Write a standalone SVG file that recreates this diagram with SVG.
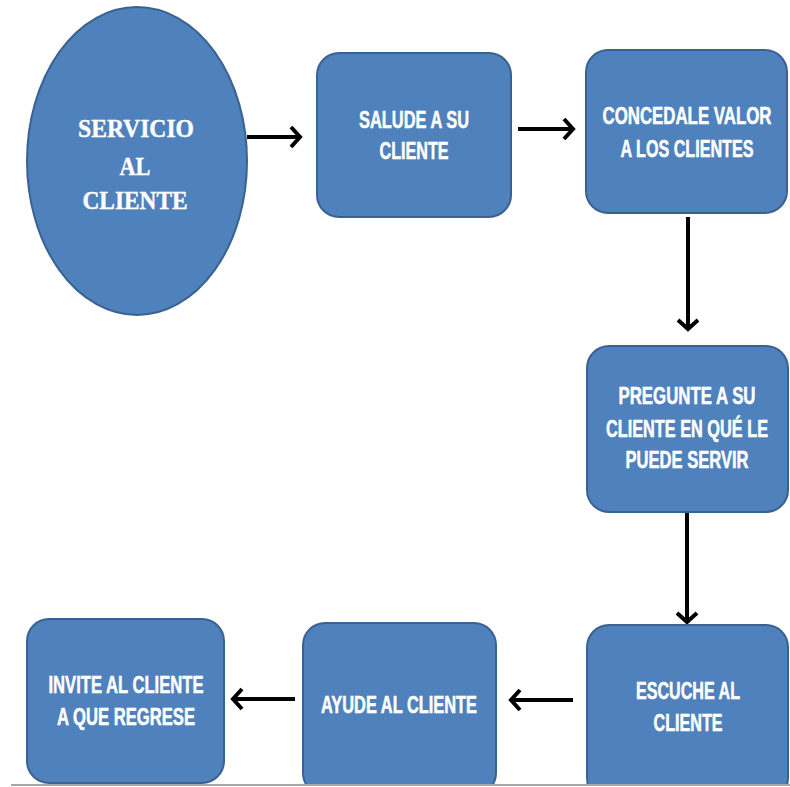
<svg xmlns="http://www.w3.org/2000/svg" width="790" height="787" viewBox="0 0 790 787">
  <style>
    .shape { fill: #4F81BD; stroke: #3A6291; stroke-width: 2; }
    .lbl { fill: #FFFFFF; stroke: #FFFFFF; stroke-width: 0.5; font-family: "Liberation Sans", Arial, sans-serif; font-weight: bold; font-size: 23px; text-anchor: middle; }
    .lbl-serif { fill: #FFFFFF; stroke: #FFFFFF; stroke-width: 0.4; font-family: "Liberation Serif", "Times New Roman", serif; font-weight: bold; font-size: 26px; text-anchor: middle; }
    .conn { fill: none; stroke: #000000; stroke-width: 4; marker-end: url(#chev); }
    .rule { stroke: #A6A6A6; stroke-width: 2; }
  </style>
  <defs>
    <marker id="chev" markerUnits="userSpaceOnUse" markerWidth="30" markerHeight="30" viewBox="-15 -15 30 30" refX="0" refY="0" orient="auto" overflow="visible">
      <path d="M-10,-10 L-1,0 L-10,10" fill="none" stroke="#000000" stroke-width="4"/>
    </marker>
  </defs>

  <rect width="790" height="787" fill="#FFFFFF"/>

  <!-- connectors -->
  <g id="connectors">
    <path class="conn" d="M247,137 L301,137"/>
    <path class="conn" d="M518,129 L574,129"/>
    <path class="conn" d="M688,217 L688,330"/>
    <path class="conn" d="M687,512 L687,623"/>
    <path class="conn" d="M573,700 L510,700"/>
    <path class="conn" d="M295,699 L232,699"/>
  </g>

  <g id="servicio">
    <ellipse class="shape" cx="137" cy="161" rx="110" ry="154"/>
    <text class="lbl-serif" x="136" y="137" textLength="116" lengthAdjust="spacingAndGlyphs">SERVICIO</text>
    <text class="lbl-serif" x="135" y="175" textLength="31" lengthAdjust="spacingAndGlyphs">AL</text>
    <text class="lbl-serif" x="135" y="209" textLength="105" lengthAdjust="spacingAndGlyphs">CLIENTE</text>
  </g>

  <g id="salude">
    <rect class="shape" x="317" y="53" width="194" height="164" rx="22"/>
    <text class="lbl" x="414" y="128" textLength="110" lengthAdjust="spacingAndGlyphs">SALUDE A SU</text>
    <text class="lbl" x="414" y="159" textLength="69" lengthAdjust="spacingAndGlyphs">CLIENTE</text>
  </g>

  <g id="concedale">
    <rect class="shape" x="586" y="50" width="201" height="163" rx="22"/>
    <text class="lbl" x="687" y="124" textLength="169" lengthAdjust="spacingAndGlyphs">CONCEDALE VALOR</text>
    <text class="lbl" x="687" y="157" textLength="133" lengthAdjust="spacingAndGlyphs">A LOS CLIENTES</text>
  </g>

  <g id="pregunte">
    <rect class="shape" x="587" y="346" width="201" height="166" rx="22"/>
    <text class="lbl" x="687" y="404" textLength="137" lengthAdjust="spacingAndGlyphs">PREGUNTE A SU</text>
    <text class="lbl" x="687" y="437" textLength="162" lengthAdjust="spacingAndGlyphs">CLIENTE EN QUÉ LE</text>
    <text class="lbl" x="687" y="468" textLength="123" lengthAdjust="spacingAndGlyphs">PUEDE SERVIR</text>
  </g>

  <g id="escuche">
    <rect class="shape" x="587" y="625" width="201" height="175" rx="22"/>
    <text class="lbl" x="688" y="699" textLength="104" lengthAdjust="spacingAndGlyphs">ESCUCHE AL</text>
    <text class="lbl" x="688" y="731" textLength="69" lengthAdjust="spacingAndGlyphs">CLIENTE</text>
  </g>

  <g id="ayude">
    <rect class="shape" x="303" y="623" width="193" height="172" rx="22"/>
    <text class="lbl" x="399" y="713" textLength="156" lengthAdjust="spacingAndGlyphs">AYUDE AL CLIENTE</text>
  </g>

  <g id="invite">
    <rect class="shape" x="27" y="619" width="197" height="164" rx="22"/>
    <text class="lbl" x="126" y="693" textLength="155" lengthAdjust="spacingAndGlyphs">INVITE AL CLIENTE</text>
    <text class="lbl" x="126" y="725" textLength="138" lengthAdjust="spacingAndGlyphs">A QUE REGRESE</text>
  </g>

  <!-- page rule along the bottom edge -->
  <line class="rule" x1="11" y1="785" x2="790" y2="785"/>
  <rect x="0" y="786" width="790" height="1" fill="#FFFFFF"/>
</svg>
